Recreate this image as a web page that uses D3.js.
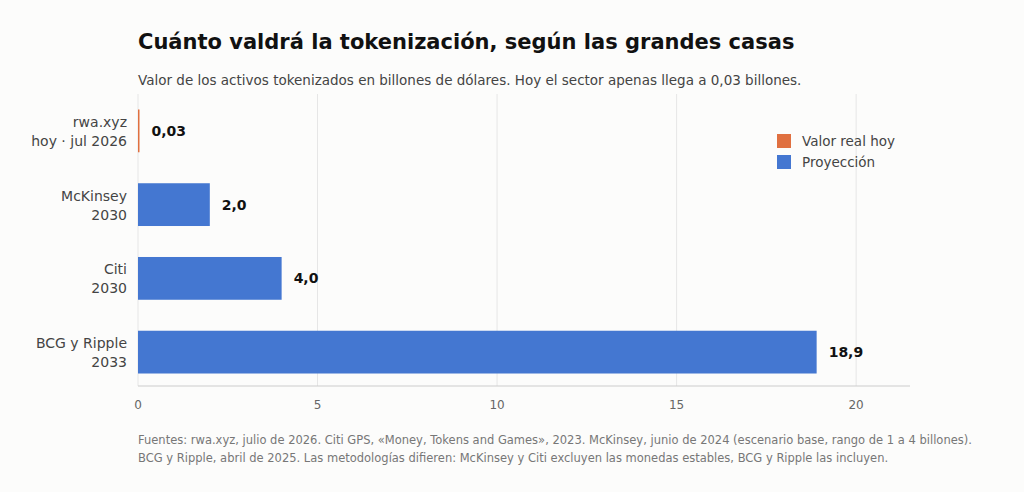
<!DOCTYPE html>
<html><head><meta charset="utf-8">
<script src="https://cdn.jsdelivr.net/npm/d3@7"></script>
<style>body{margin:0;background:#fcfcfb;font-family:"DejaVu Sans",sans-serif}</style>
</head><body><svg id="c" width="1024" height="492"></svg>
<script>
const categories=[["rwa.xyz","hoy · jul 2026"],["McKinsey","2030"],["Citi","2030"],["BCG y Ripple","2033"]];
const values=[0.03,2.0,4.0,18.9];
const labels=["0,03","2,0","4,0","18,9"];
const kinds=["real","proj","proj","proj"];
const ticks=[0,5,10,15,20];
const colors={real:"#e07040",proj:"#4477d1"};
const svg=d3.select("#c");
svg.append("rect").attr("width",1024).attr("height",492).attr("fill","#fcfcfb");
const x=d3.scaleLinear().domain([0,21.5]).range([138,910]);
const y=d3.scaleBand().domain(d3.range(4)).range([94,389]).paddingInner(0.42).paddingOuter(0.21);
svg.append("g").selectAll("line").data(ticks).join("line").attr("x1",d=>x(d)).attr("x2",d=>x(d)).attr("y1",94).attr("y2",386).attr("stroke","#e6e6e6");
svg.append("line").attr("x1",138).attr("x2",910).attr("y1",386).attr("y2",386).attr("stroke","#ccc");
svg.append("g").selectAll("text").data(ticks).join("text").attr("x",d=>x(d)).attr("y",409).attr("text-anchor","middle").attr("font-size",12).attr("fill","#666").text(d=>d);
svg.append("g").selectAll("rect").data(values).join("rect").attr("x",x(0)).attr("y",(d,i)=>y(i)).attr("height",y.bandwidth()).attr("width",d=>Math.max(1.5,x(d)-x(0))).attr("fill",(d,i)=>colors[kinds[i]]);
svg.append("g").selectAll("text").data(values).join("text").attr("x",d=>Math.max(x(d),x(0)+1.5)+12).attr("y",(d,i)=>y(i)+y.bandwidth()/2+5).attr("font-size",14).attr("font-weight","bold").attr("fill","#111").text((d,i)=>labels[i]);
const cl=svg.append("g");
categories.forEach((c,i)=>{const cy=y(i)+y.bandwidth()/2;
 c.forEach((t,j)=>cl.append("text").attr("x",127).attr("y",cy-4+j*19).attr("text-anchor","end").attr("font-size",14).attr("fill","#444").text(t));});
[["Valor real hoy","real"],["Proyección","proj"]].forEach(([t,k],i)=>{
 svg.append("rect").attr("x",777).attr("y",134+i*21).attr("width",14).attr("height",14).attr("fill",colors[k]);
 svg.append("text").attr("x",802).attr("y",146+i*21).attr("font-size",13.5).attr("fill","#444").text(t);});
svg.append("text").attr("x",138).attr("y",49).attr("font-size",21).attr("font-weight","bold").attr("fill","#111").text("Cuánto valdrá la tokenización, según las grandes casas");
svg.append("text").attr("x",138).attr("y",85).attr("font-size",13.5).attr("fill","#444").text("Valor de los activos tokenizados en billones de dólares. Hoy el sector apenas llega a 0,03 billones.");
svg.append("text").attr("x",138).attr("y",444).attr("font-size",11.5).attr("fill","#777").text("Fuentes: rwa.xyz, julio de 2026. Citi GPS, «Money, Tokens and Games», 2023. McKinsey, junio de 2024 (escenario base, rango de 1 a 4 billones).");
svg.append("text").attr("x",138).attr("y",462).attr("font-size",11.5).attr("fill","#777").text("BCG y Ripple, abril de 2025. Las metodologías difieren: McKinsey y Citi excluyen las monedas estables, BCG y Ripple las incluyen.");
</script></body></html>
